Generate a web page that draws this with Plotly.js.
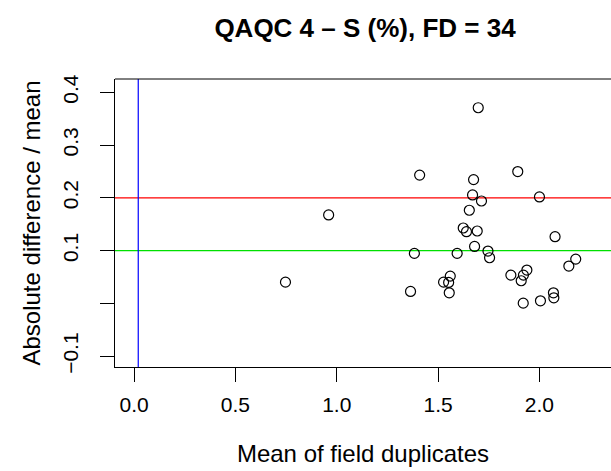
<!DOCTYPE html>
<html>
<head>
<meta charset="utf-8">
<script src="https://cdn.plot.ly/plotly-3.0.1.min.js"></script>
<style>html,body{margin:0;padding:0;background:#fff;}</style>
</head>
<body>
<div id="chart" style="width:611px;height:471px;"></div>
<script>
// Mean of field duplicates (x) and absolute difference / mean (y)
const meanValues = [1.409, 1.675, 1.893, 1.670, 1.714, 2.000, 1.654, 1.624, 1.640, 1.693,
                    2.077, 1.383, 1.594, 1.680, 1.746, 1.754, 2.179, 2.145, 1.859, 1.938,
                    1.921, 1.910, 1.560, 1.527, 1.552, 1.555, 1.364, 1.920, 2.005, 2.069,
                    2.071, 1.698, 0.960, 0.747];
const relDiffValues = [0.243, 0.2345, 0.2497, 0.2055, 0.194, 0.2017, 0.1765, 0.1429, 0.1359, 0.1372,
                       0.1264, 0.0949, 0.0949, 0.108, 0.0992, 0.0866, 0.084, 0.0708, 0.0537, 0.0632,
                       0.0537, 0.043, 0.0518, 0.0404, 0.0398, 0.0202, 0.0228, 0.0006, 0.005, 0.0202,
                       0.0107, 0.3706, 0.1676, 0.0404];
const xTickVals = [0, 0.5, 1, 1.5, 2];
const xTickText = ['0.0', '0.5', '1.0', '1.5', '2.0'];
const yTickVals = [-0.1, 0, 0.1, 0.2, 0.3, 0.4];
const yTickText = ['\u22120.1', '', '0.1', '0.2', '0.3', '0.4'];
const limitLine = 0.2;    // red
const warnLine = 0.1;     // green
const detectionLine = 0.0207; // blue vertical

const FONT = 'Liberation Sans, Arial, Helvetica, sans-serif';

const trace = {
  x: meanValues,
  y: relDiffValues,
  type: 'scatter',
  mode: 'markers',
  marker: {symbol: 'circle-open', size: 10, color: '#000', line: {width: 1.2, color: '#000'}},
  hoverinfo: 'x+y'
};

const layout = {
  width: 611, height: 471,
  margin: {l: 115, r: 0, t: 79, b: 104, pad: 0},
  paper_bgcolor: '#fff', plot_bgcolor: '#fff',
  showlegend: false,
  font: {family: FONT, color: '#000', size: 21},
  title: {
    text: '<b>QAQC 4 \u2013 S (%), FD = 34</b>',
    font: {family: FONT, size: 26, color: '#000'},
    xref: 'container', x: 365 / 611, xanchor: 'center',
    yref: 'container', y: 1 - 28 / 471, yanchor: 'middle'
  },
  xaxis: {
    range: [-0.094, 2.353],
    tickmode: 'array', tickvals: xTickVals, ticktext: xTickText,
    ticks: 'outside', ticklen: 14, tickwidth: 1, tickcolor: '#000',
    showline: true, linecolor: '#000', linewidth: 1,
    showgrid: false, zeroline: false,
    tickfont: {family: FONT, size: 21, color: '#000'},
    ticklabelstandoff: 5,
    title: {text: 'Mean of field duplicates', font: {family: FONT, size: 24, color: '#000'}, standoff: 29}
  },
  yaxis: {
    range: [-0.1203, 0.425],
    tickmode: 'array', tickvals: yTickVals, ticktext: yTickText,
    tickangle: -90,
    ticks: 'outside', ticklen: 14, tickwidth: 1, tickcolor: '#000',
    showline: true, linecolor: '#000', linewidth: 1,
    showgrid: false, zeroline: false,
    tickfont: {family: FONT, size: 21, color: '#000'},
    ticklabelstandoff: 14,
    title: {text: 'Absolute difference / mean', font: {family: FONT, size: 24, color: '#000'}, standoff: 11}
  },
  shapes: [
    {type: 'line', xref: 'paper', yref: 'paper', x0: 0, x1: 1, y0: 1, y1: 1, line: {color: '#000', width: 1}},
    {type: 'line', xref: 'paper', yref: 'y', x0: 0, x1: 1, y0: limitLine, y1: limitLine, line: {color: '#ff0000', width: 1.2}, layer: 'below'},
    {type: 'line', xref: 'paper', yref: 'y', x0: 0, x1: 1, y0: warnLine, y1: warnLine, line: {color: '#00e000', width: 1.3}, layer: 'below'},
    {type: 'line', xref: 'x', yref: 'paper', x0: detectionLine, x1: detectionLine, y0: 0, y1: 1, line: {color: '#0000ff', width: 1.2}, layer: 'below'}
  ]
};

Plotly.newPlot('chart', [trace], layout, {displayModeBar: false, staticPlot: true});
</script>
</body>
</html>
